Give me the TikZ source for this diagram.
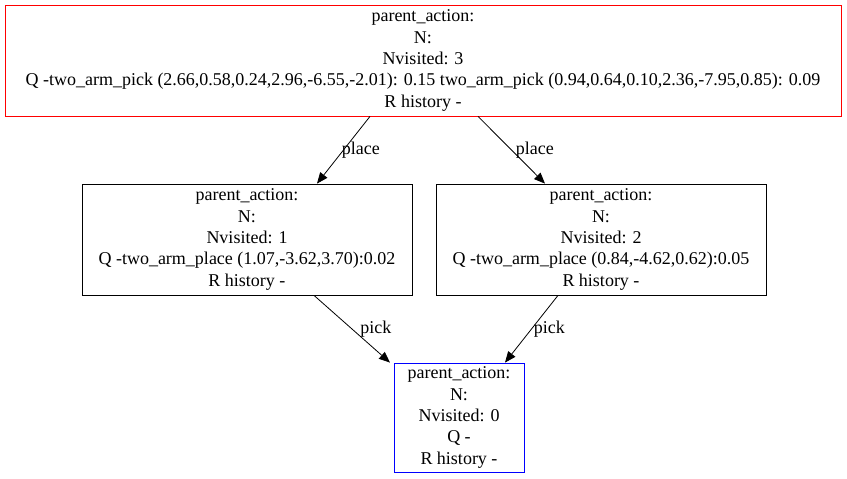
\documentclass[tikz,border=0pt]{standalone}
\usepackage{fontspec}
\setmainfont{Liberation Serif}
\usetikzlibrary{arrows.meta}

\begin{document}
\begin{tikzpicture}[x=1pt,y=-1pt,
  tnode/.style={draw, thick, align=center, inner sep=0pt, font=\fontsize{18}{21.3}\selectfont},
  edge/.style={-{Triangle[length=11pt,width=9pt]}, thick},
  elabel/.style={anchor=west, inner sep=0pt, font=\fontsize{18}{20}\selectfont}]
\useasboundingbox (0,0) rectangle (847,479);
%\draw[help lines] (0,0) grid[step=50] (847,479);
\node [tnode, red, text=black, minimum width=836pt, minimum height=111pt] (root) at (423,60.5)
  {parent\_action:\\N:\\Nvisited: 3\\Q -two\_arm\_pick (2.66,0.58,0.24,2.96,-6.55,-2.01): 0.15 two\_arm\_pick (0.94,0.64,0.10,2.36,-7.95,0.85): 0.09\\R history -};
\node [tnode, minimum width=330pt, minimum height=111pt] (left) at (247,239.5)
  {parent\_action:\\N:\\Nvisited: 1\\Q -two\_arm\_place (1.07,-3.62,3.70):0.02\\R history -};
\node [tnode, minimum width=330pt, minimum height=111pt] (right) at (601,239.5)
  {parent\_action:\\N:\\Nvisited: 2\\Q -two\_arm\_place (0.84,-4.62,0.62):0.05\\R history -};
\node [tnode, blue, text=black, minimum width=130pt, minimum height=109pt] (leaf) at (459,417.5)
  {parent\_action:\\N:\\Nvisited: 0\\Q -\\R history -};
\draw [edge] ([xshift=-53pt]root.south) -- node[elabel, xshift=-2pt] {place} ([xshift=70pt]left.north);
\draw [edge] ([xshift=55pt]root.south) -- node[elabel, xshift=4pt] {place} ([xshift=-56pt]right.north);
\draw [edge] ([xshift=67pt]left.south) -- node[elabel, xshift=8pt] {pick} ([xshift=-69pt]leaf.north);
\draw [edge] ([xshift=-43pt]right.south) -- node[elabel, xshift=2pt] {pick} ([xshift=46pt]leaf.north);
\end{tikzpicture}
\end{document}
